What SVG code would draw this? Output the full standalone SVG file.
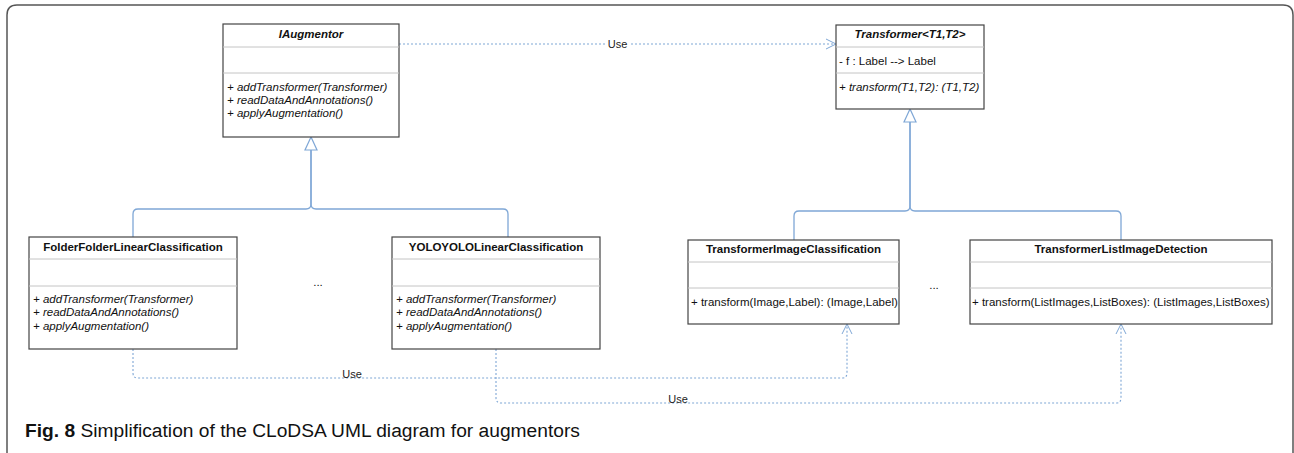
<svg xmlns="http://www.w3.org/2000/svg" width="1294" height="453" viewBox="0 0 1294 453">
<style>
.box{fill:#fff;stroke:#444;stroke-width:1.2}
.sep{stroke:#c4c4c4;stroke-width:1}
.t{font-family:"Liberation Sans",Arial,sans-serif;font-size:11.5px;fill:#111}
.h{font-weight:bold;text-anchor:middle}
.i{font-style:italic}
.inh{fill:none;stroke:#7fa7d6;stroke-width:1.3}
.dep{fill:none;stroke:#7fa7d6;stroke-width:1.1;stroke-dasharray:2 2}
.ah{fill:none;stroke:#7fa7d6;stroke-width:1}
.lbl{font-family:"Liberation Sans",Arial,sans-serif;font-size:11px;fill:#222;text-anchor:middle}
.cap{font-family:"Liberation Sans",Arial,sans-serif;font-size:19.2px;fill:#111}
</style>
<rect width="1294" height="453" fill="#fff"/>
<path d="M7,453 V15 Q7,5 17,5 H1283 Q1293,5 1293,15 V453" fill="none" stroke="#555" stroke-width="1.5"/>

<g id="connectors">
  <path class="inh" d="M133,237 V214 Q133,209 138,209 H306 Q311,209 311,204 V150"/>
  <path class="inh" d="M508,237 V214 Q508,209 503,209 H316 Q311,209 311,204 V150"/>
  <polygon points="311,137 305,150 317,150" fill="#fff" stroke="#7fa7d6" stroke-width="1.2"/>
  <path class="inh" d="M794,240 V216 Q794,211 799,211 H905 Q910,211 910,206 V122"/>
  <path class="inh" d="M1121,240 V216 Q1121,211 1116,211 H915 Q910,211 910,206 V122"/>
  <polygon points="910,109 904,122 916,122" fill="#fff" stroke="#7fa7d6" stroke-width="1.2"/>
  <path class="dep" d="M399,44 H835"/>
  <path class="ah" d="M826,39 L836,44 L826,49"/>
  <rect x="605" y="38" width="25" height="12" fill="#fff"/>
  <text class="lbl" x="617.5" y="48">Use</text>
  <path class="dep" d="M133,349 V373 Q133,378 138,378 H842 Q847,378 847,373 V325"/>
  <path class="ah" d="M842,334 L847,324 L852,334"/>
  <text class="lbl" x="352" y="378">Use</text>
  <path class="dep" d="M496,349 V398 Q496,403 501,403 H1116 Q1121,403 1121,398 V325"/>
  <path class="ah" d="M1116,334 L1121,324 L1126,334"/>
  <text class="lbl" x="678" y="403">Use</text>
</g>

<g id="IAugmentor">
  <rect class="box" x="223" y="24" width="176" height="113"/>
  <line class="sep" x1="223" y1="47" x2="399" y2="47"/>
  <line class="sep" x1="223" y1="73" x2="399" y2="73"/>
  <text class="t h i" x="311" y="38">IAugmentor</text>
  <text class="t i" x="227" y="91">+ addTransformer(Transformer)</text>
  <text class="t i" x="227" y="104">+ readDataAndAnnotations()</text>
  <text class="t i" x="227" y="117">+ applyAugmentation()</text>
</g>

<g id="Transformer">
  <rect class="box" x="836" y="25" width="148" height="84"/>
  <line class="sep" x1="836" y1="47" x2="984" y2="47"/>
  <line class="sep" x1="836" y1="73" x2="984" y2="73"/>
  <text class="t h i" x="910" y="38">Transformer&lt;T1,T2&gt;</text>
  <text class="t" x="839" y="64.5">- f : Label --&gt; Label</text>
  <text class="t i" x="839" y="91">+ transform(T1,T2): (T1,T2)</text>
</g>

<g id="FolderFolderLinearClassification">
  <rect class="box" x="29" y="237" width="208" height="112"/>
  <line class="sep" x1="29" y1="259" x2="237" y2="259"/>
  <line class="sep" x1="29" y1="286" x2="237" y2="286"/>
  <text class="t h" x="133" y="251">FolderFolderLinearClassification</text>
  <text class="t i" x="33" y="303">+ addTransformer(Transformer)</text>
  <text class="t i" x="33" y="316">+ readDataAndAnnotations()</text>
  <text class="t i" x="33" y="330">+ applyAugmentation()</text>
</g>

<g id="dots1"><text class="t" x="318" y="286" text-anchor="middle">...</text></g>

<g id="YOLOYOLOLinearClassification">
  <rect class="box" x="392" y="237" width="208" height="112"/>
  <line class="sep" x1="392" y1="259" x2="600" y2="259"/>
  <line class="sep" x1="392" y1="286" x2="600" y2="286"/>
  <text class="t h" x="496" y="251">YOLOYOLOLinearClassification</text>
  <text class="t i" x="396" y="303">+ addTransformer(Transformer)</text>
  <text class="t i" x="396" y="316">+ readDataAndAnnotations()</text>
  <text class="t i" x="396" y="330">+ applyAugmentation()</text>
</g>

<g id="TransformerImageClassification">
  <rect class="box" x="688" y="240" width="211" height="84"/>
  <line class="sep" x1="688" y1="262" x2="899" y2="262"/>
  <line class="sep" x1="688" y1="288" x2="899" y2="288"/>
  <text class="t h" x="793.5" y="253">TransformerImageClassification</text>
  <text class="t" x="691" y="306">+ transform(Image,Label): (Image,Label)</text>
</g>

<g id="dots2"><text class="t" x="934" y="289" text-anchor="middle">...</text></g>

<g id="TransformerListImageDetection">
  <rect class="box" x="970" y="240" width="302" height="84"/>
  <line class="sep" x1="970" y1="262" x2="1272" y2="262"/>
  <line class="sep" x1="970" y1="288" x2="1272" y2="288"/>
  <text class="t h" x="1121" y="253">TransformerListImageDetection</text>
  <text class="t" x="972" y="306">+ transform(ListImages,ListBoxes): (ListImages,ListBoxes)</text>
</g>

<text class="cap" x="25" y="437"><tspan font-weight="bold">Fig. 8</tspan> Simplification of the CLoDSA UML diagram for augmentors</text>
</svg>
